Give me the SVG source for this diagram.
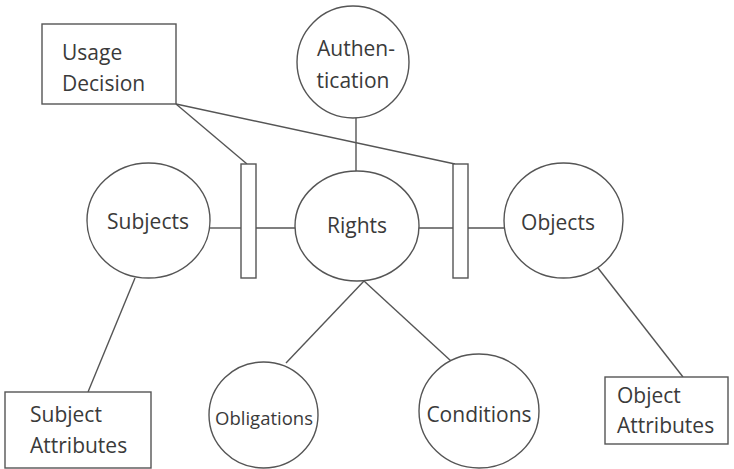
<svg xmlns="http://www.w3.org/2000/svg" width="734" height="469" viewBox="0 0 734 469">
  <style>
    .shape { fill: #ffffff; stroke: #555555; stroke-width: 1.4; }
    .edge { fill: none; stroke: #555555; stroke-width: 1.4; }
    .label { font-family: "Open Sans", "Noto Sans", sans-serif; font-size: 21px; fill: #3a3a3a; }
    .small { font-size: 18.5px; }
    .mid { text-anchor: middle; }
  </style>
  <rect width="734" height="469" fill="#ffffff"/>

  <g id="connectors">
    <line class="edge" x1="176" y1="104" x2="247" y2="164"/>
    <line class="edge" x1="176" y1="104" x2="455" y2="164"/>
    <line class="edge" x1="356" y1="118" x2="356" y2="172"/>
    <line class="edge" x1="210" y1="228" x2="241" y2="228"/>
    <line class="edge" x1="256" y1="228" x2="295" y2="228"/>
    <line class="edge" x1="419" y1="228" x2="453" y2="228"/>
    <line class="edge" x1="468" y1="228" x2="504" y2="228"/>
    <line class="edge" x1="135" y1="278" x2="88" y2="392"/>
    <line class="edge" x1="598" y1="268" x2="683" y2="377"/>
    <line class="edge" x1="364" y1="281" x2="286" y2="363"/>
    <line class="edge" x1="364" y1="281" x2="451" y2="361"/>
  </g>

  <g id="usage-decision">
    <rect class="shape" x="42" y="24" width="134" height="80"/>
    <text class="label" x="62" y="60">Usage</text>
    <text class="label" x="62" y="91">Decision</text>
  </g>

  <g id="authentication">
    <ellipse class="shape" cx="353" cy="62" rx="56" ry="56"/>
    <text class="label mid" x="356" y="56">Authen-</text>
    <text class="label mid" x="353" y="88">tication</text>
  </g>

  <g id="subjects">
    <ellipse class="shape" cx="148.5" cy="220.5" rx="61.5" ry="57.5"/>
    <text class="label mid" x="148" y="229">Subjects</text>
  </g>

  <g id="gate-left">
    <rect class="shape" x="241" y="164" width="15" height="114"/>
  </g>

  <g id="rights">
    <ellipse class="shape" cx="357" cy="226" rx="62" ry="55"/>
    <text class="label mid" x="357" y="233">Rights</text>
  </g>

  <g id="gate-right">
    <rect class="shape" x="453" y="164" width="15" height="114"/>
  </g>

  <g id="objects">
    <ellipse class="shape" cx="563.5" cy="220.5" rx="59.5" ry="57.5"/>
    <text class="label mid" x="558" y="230">Objects</text>
  </g>

  <g id="subject-attributes">
    <rect class="shape" x="5" y="392" width="146" height="76"/>
    <text class="label" x="30" y="422">Subject</text>
    <text class="label" x="30" y="453">Attributes</text>
  </g>

  <g id="obligations">
    <ellipse class="shape" cx="263.5" cy="415" rx="54.5" ry="53"/>
    <text class="label small mid" x="264" y="425">Obligations</text>
  </g>

  <g id="conditions">
    <ellipse class="shape" cx="479" cy="411" rx="60" ry="57"/>
    <text class="label mid" x="479" y="422">Conditions</text>
  </g>

  <g id="object-attributes">
    <rect class="shape" x="605" y="377" width="123" height="67"/>
    <text class="label" x="617" y="403">Object</text>
    <text class="label" x="617" y="433">Attributes</text>
  </g>
</svg>
